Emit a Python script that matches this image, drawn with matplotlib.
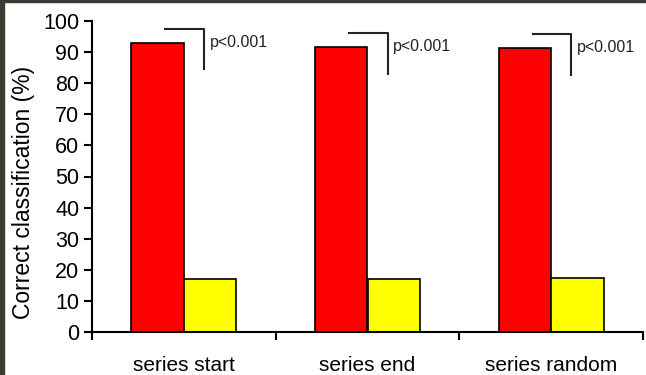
import matplotlib
matplotlib.use("Agg")
import matplotlib.pyplot as plt
from matplotlib.patches import Rectangle
import numpy as np

plt.rcParams['font.family'] = ['Liberation Sans', 'DejaVu Sans']

categories = ["series start", "series end", "series random"]
correct = [93.0, 91.7, 91.3]
shuffled = [17.0, 16.9, 17.3]
bracket_top = [97.5, 96.2, 95.9]
bracket_bottom = [84.5, 83.0, 82.6]
p_labels = ["p<0.001", "p<0.001", "p<0.001"]

fig = plt.figure(figsize=(6.46, 3.75), dpi=100)
ax = fig.add_axes([92 / 646, 1 - 332 / 375, (643 - 92) / 646, (332 - 21) / 375])

x = np.arange(len(categories))
w = 0.286
ax.bar(x - w / 2, correct, w, color="#ff0000", edgecolor="black", linewidth=1.2)
ax.bar(x + w / 2, shuffled, w, color="#ffff00", edgecolor="black", linewidth=1.2)

for i in range(len(categories)):
    ax.plot([x[i] - 0.10, x[i] + 0.11, x[i] + 0.11],
            [bracket_top[i], bracket_top[i], bracket_bottom[i]],
            color="#222222", linewidth=1.5)
    ax.text(x[i] + 0.14, bracket_top[i] - 4.3, p_labels[i], fontsize=11.5,
            va="center", ha="left", color="#222222")

ax.set_xlim(-0.5, len(categories) - 0.5)
ax.set_ylim(0, 100)
ax.set_yticks(range(0, 101, 10))
ax.set_xticks(np.arange(-0.5, len(categories), 1.0))
ax.set_xticklabels([])
ax.set_xticks(x, minor=True)
ax.set_xticklabels(categories, minor=True, fontsize=15)
ax.tick_params(axis="x", which="minor", length=0, pad=17)
ax.tick_params(axis="x", which="major", length=6, width=1.5, direction="out")
ax.tick_params(axis="y", length=6, width=1.5, direction="out", labelsize=15.5, pad=3)

for side in ["top", "right"]:
    ax.spines[side].set_visible(False)
for side in ["left", "bottom"]:
    ax.spines[side].set_linewidth(1.5)

ax.set_ylabel("Correct classification (%)", fontsize=16.5)
ax.yaxis.set_label_coords(-0.104, 0.45)

# dark frame strips along the left and top edges
fig.patches.append(Rectangle((0, 0), 4 / 646, 1, transform=fig.transFigure,
                             color="#3b3a33", zorder=-1))
fig.patches.append(Rectangle((0, 1 - 2 / 375), 1, 2 / 375, transform=fig.transFigure,
                             color="#3b3a33", zorder=-1))

fig.savefig("out.png", dpi=100)
